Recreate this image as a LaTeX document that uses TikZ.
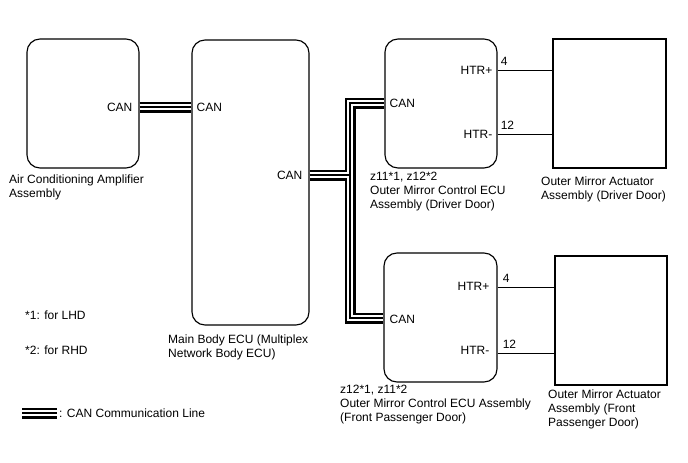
\documentclass[tikz,border=0pt]{standalone}
\usepackage{fontspec}
\setmainfont{Liberation Sans}
\begin{document}
\begin{tikzpicture}[x=1pt,y=-1pt,
  ecu/.style={draw, line width=1.15pt, rounded corners=13pt, inner sep=0pt},
  act/.style={draw, line width=1.15pt, inner sep=0pt},
  wire/.style={line width=0.9pt},
  lbl/.style={inner sep=0pt, font=\fontsize{12}{14}\selectfont},
  mlbl/.style={lbl, align=left, anchor=north west},
  num/.style={inner sep=0pt, font=\fontsize{12}{14}\selectfont, anchor=south west}]
\useasboundingbox[fill=white] (0,0) rectangle (688,463);

% boxes
\node[ecu, minimum width=112pt, minimum height=129pt] (ac)  at (83,103.5) {};
\node[ecu, minimum width=117pt, minimum height=285pt] (main) at (250.5,182.5) {};
\node[ecu, minimum width=112pt, minimum height=129pt] (drv) at (441,103.5) {};
\node[ecu, minimum width=113pt, minimum height=129pt] (pas) at (440.5,317.5) {};
\node[act, minimum width=113pt, minimum height=129pt] (dact) at (609.5,103.5) {};
\node[act, minimum width=112pt, minimum height=129pt] (pact) at (611,320.5) {};

% CAN bundles
\coordinate (j) at (350,175);
\coordinate (lg1) at (22,413);
\coordinate (lg2) at (57,413);
\foreach \w/\c in {11pt/black, 6.4pt/white, 1.4pt/black} {
  \draw[line width=\w, color=\c] (ac.east |- 0,107) -- (main.west |- 0,107);
  \draw[line width=\w, color=\c] (main.east |- 0,175) -- (j) -- (j |- 0,103) -- (drv.west |- 0,103);
  \draw[line width=\w, color=\c] (j) -- (j |- 0,318) -- (pas.west |- 0,318);
  \draw[line width=\w, color=\c] (lg1) -- (lg2);
}

% CAN labels
\node[lbl, anchor=east] (acan) at ([xshift=-7pt]ac.east |- 0,107) {CAN};
\node[lbl, anchor=west] (mcan1) at ([xshift=5pt]main.west |- 0,107) {CAN};
\node[lbl, anchor=east] (mcan2) at ([xshift=-7pt]main.east |- 0,175) {CAN};
\node[lbl, anchor=west] (dcan) at ([xshift=5pt]drv.west |- 0,103) {CAN};
\node[lbl, anchor=west] (pcan) at ([xshift=6pt]pas.west |- 0,319) {CAN};

% heater wires
\draw[wire] (drv.east |- 0,70) -- (dact.west |- 0,70);
\draw[wire] (drv.east |- 0,134) -- (dact.west |- 0,134);
\draw[wire] (pas.east |- 0,287) -- (pact.west |- 0,287);
\draw[wire] (pas.east |- 0,353) -- (pact.west |- 0,353);

\node[num] (d4) at ([xshift=3pt, yshift=4pt]drv.east |- 0,70) {4};
\node[num] (d12) at ([xshift=3pt, yshift=4pt]drv.east |- 0,134) {12};
\node[num] (p4) at ([xshift=5pt, yshift=4pt]pas.east |- 0,287) {4};
\node[num] (p12) at ([xshift=5pt, yshift=4pt]pas.east |- 0,353) {12};

\node[lbl, anchor=east] (dhp) at ([xshift=-5pt]drv.east |- 0,70) {HTR+};
\node[lbl, anchor=east] (dhm) at ([xshift=-5pt]drv.east |- 0,134) {HTR-};
\node[lbl, anchor=east] (php) at ([xshift=-8pt]pas.east |- 0,286) {HTR+};
\node[lbl, anchor=east] (phm) at ([xshift=-8pt]pas.east |- 0,350) {HTR-};

% captions
\node[mlbl] (acl) at (9,175) {Air Conditioning Amplifier\\Assembly};
\node[mlbl] (mainl) at (168,335) {Main Body ECU (Multiplex\\Network Body ECU)};
\node[mlbl] (drvl) at (370,172) {z11*1, z12*2\\Outer Mirror Control ECU\\Assembly (Driver Door)};
\node[mlbl] (pasl) at (340,385) {z12*1, z11*2\\Outer Mirror Control ECU Assembly\\(Front Passenger Door)};
\node[mlbl] (dactl) at (541,177) {Outer Mirror Actuator\\Assembly (Driver Door)};
\node[mlbl] (pactl) at (548,390) {Outer Mirror Actuator\\Assembly (Front\\Passenger Door)};

\node[lbl, anchor=west] (n1) at (25,315) {*1: for LHD};
\node[lbl, anchor=west] (n2) at (25,350) {*2: for RHD};
\node[lbl, anchor=west] (lgt) at (59,413) {: CAN Communication Line};
\end{tikzpicture}
\end{document}
